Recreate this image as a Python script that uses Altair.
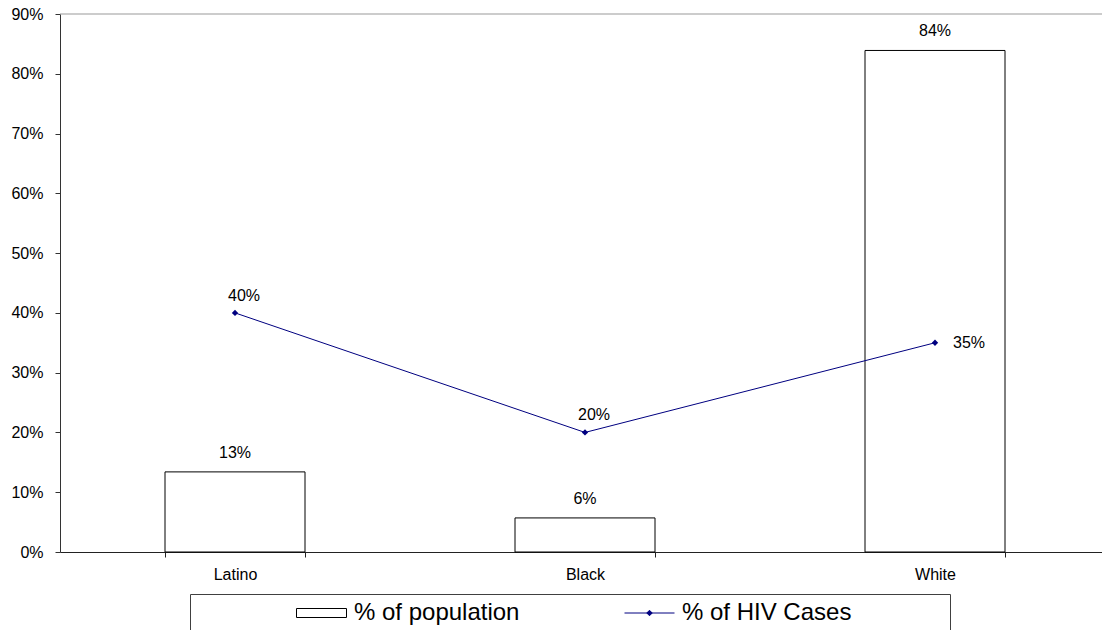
import altair as alt
import pandas as pd

# ---- data ----
categories = ["Latino", "Black", "White"]
population = [0.134, 0.057, 0.839]
hiv_cases = [0.40, 0.20, 0.35]
series_names = ["% of population", "% of HIV Cases"]
y_ticks = [0.0, 0.1, 0.2, 0.3, 0.4, 0.5, 0.6, 0.7, 0.8, 0.9]

FONT = "Liberation Sans"
NAVY = "#000080"

df = pd.DataFrame({"category": categories, "population": population, "hiv": hiv_cases})
long_df = pd.DataFrame({
    "category": categories * 2,
    "series": [series_names[0]] * len(categories) + [series_names[1]] * len(categories),
    "value": population + hiv_cases,
})
top_df = pd.DataFrame({"top": [y_ticks[-1]]})

x_scale = alt.Scale(domain=categories, range=[0, 1050], paddingInner=0.6, paddingOuter=0.3)
y_scale = alt.Scale(domain=[0, 0.9], nice=False, zero=True)

x_axis = alt.Axis(title=None, labelFont=FONT, labelFontSize=16, labelColor="black",
                  labelPadding=9, tickSize=5, tickColor="#222", domainColor="#222",
                  tickBand="extent", labelAngle=0, grid=False)
y_axis = alt.Axis(title=None, values=y_ticks, format=".0%", labelFont=FONT,
                  labelFontSize=16, labelColor="black", labelPadding=12, tickSize=5,
                  tickColor="#333", domainColor="#333", grid=False)

X = alt.X("category:N", scale=x_scale, axis=x_axis, sort=categories)

top_rule = alt.Chart(top_df).mark_rule(color="#999999", strokeWidth=1).encode(
    y=alt.Y("top:Q", scale=y_scale, axis=y_axis)
)

bars = alt.Chart(df).mark_bar(fill="white", stroke="black", strokeWidth=1).encode(
    x=X, y=alt.Y("population:Q", scale=y_scale, axis=y_axis)
)
bar_labels = alt.Chart(df).mark_text(font=FONT, fontSize=16, color="black",
                                     baseline="alphabetic", dy=-14).encode(
    x=X, y=alt.Y("population:Q", scale=y_scale),
    text=alt.Text("population:Q", format=".0%")
)

line = alt.Chart(df).mark_line(color=NAVY, strokeWidth=1).encode(
    x=X, y=alt.Y("hiv:Q", scale=y_scale)
)
points = alt.Chart(df).mark_point(shape="diamond", filled=True, color=NAVY,
                                  size=40, opacity=1).encode(
    x=X, y=alt.Y("hiv:Q", scale=y_scale)
)
line_labels_above = alt.Chart(df).transform_filter(
    alt.datum.category != categories[-1]
).mark_text(font=FONT, fontSize=16, color="black", baseline="alphabetic",
            dx=9, dy=-12).encode(
    x=X, y=alt.Y("hiv:Q", scale=y_scale),
    text=alt.Text("hiv:Q", format=".0%")
)
line_labels_right = alt.Chart(df).transform_filter(
    alt.datum.category == categories[-1]
).mark_text(font=FONT, fontSize=16, color="black", baseline="middle",
            align="left", dx=18).encode(
    x=X, y=alt.Y("hiv:Q", scale=y_scale),
    text=alt.Text("hiv:Q", format=".0%")
)

rect_path = "M-1,-0.18H1V0.18H-1Z"
line_path = "M-1,0H1M0,-0.11L0.11,0L0,0.11L-0.11,0Z"

legend = alt.Legend(
    title="\u00a0", titleOrient="right", titlePadding=92, titleFontSize=1,
    orient="none", legendX=130, legendY=580, direction="horizontal",
    padding=7, strokeColor="#404040", fillColor="white", clipHeight=24,
    symbolOffset=99, labelOffset=7, columnPadding=5, symbolSize=2500,
    symbolStrokeWidth=1, symbolOpacity=1, labelFontSize=24, labelFont=FONT,
    labelColor="black", labelLimit=0,
)

legend_layer = alt.Chart(long_df).mark_point(opacity=0).encode(
    x=X, y=alt.Y("value:Q", scale=y_scale),
    shape=alt.Shape("series:N", scale=alt.Scale(domain=series_names, range=[rect_path, line_path]), legend=legend),
    stroke=alt.Stroke("series:N", scale=alt.Scale(domain=series_names, range=["black", NAVY]), legend=legend),
    fill=alt.Fill("series:N", scale=alt.Scale(domain=series_names, range=["white", NAVY]), legend=legend),
)

chart = alt.layer(
    top_rule, bars, bar_labels, line, points, line_labels_above, line_labels_right, legend_layer
).properties(
    width=1042, height=538,
    autosize=alt.AutoSizeParams(type="none"),
    padding={"left": 60, "top": 14, "right": 0, "bottom": 78},
    background="white",
).configure_view(stroke=None)

chart.save("out.html", embed_options={"renderer": "svg", "actions": False})
